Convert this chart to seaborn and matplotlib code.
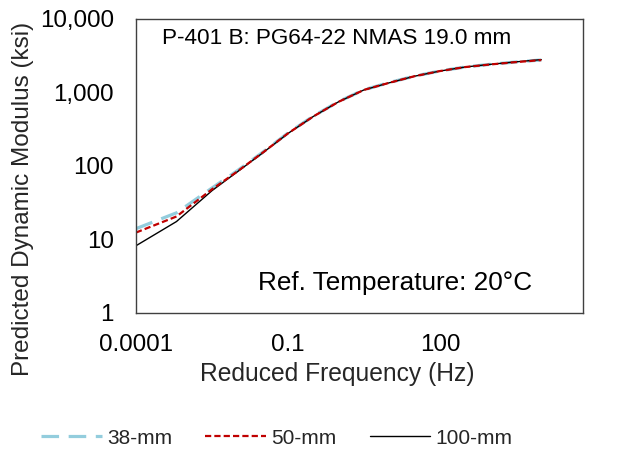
import numpy as np
import pandas as pd
import matplotlib
matplotlib.use("Agg")
import matplotlib.pyplot as plt
import seaborn as sns
from matplotlib.ticker import FixedLocator, FixedFormatter, NullLocator

# ---- data ----
freq = [1e-4, 6.3e-4, 3.16e-3, 1e-2, 3.16e-2, 0.1, 0.316, 1.0, 3.16, 10.0,
        31.6, 100.0, 316.0, 1000.0, 3162.0, 10000.0]
mod_38 = [14.0, 23.0, 50.0, 86.0, 153.0, 280.0, 475.0, 750.0, 1085.0, 1360.0,
          1665.0, 1955.0, 2215.0, 2410.0, 2590.0, 2760.0]
mod_50 = [12.4, 20.5, 48.0, 84.0, 151.0, 277.0, 470.0, 745.0, 1080.0, 1350.0,
          1660.0, 1950.0, 2210.0, 2400.0, 2580.0, 2750.0]
mod_100 = [8.2, 17.5, 46.0, 83.0, 150.0, 276.0, 470.0, 745.0, 1080.0, 1350.0,
           1660.0, 1950.0, 2215.0, 2410.0, 2600.0, 2790.0]
series_names = ["38-mm", "50-mm", "100-mm"]
x_ticks = [1e-4, 1e-1, 1e2]
x_tick_labels = ["0.0001", "0.1", "100"]
y_ticks = [1, 10, 100, 1000, 10000]
y_tick_labels = ["1", "10", "100", "1,000", "10,000"]
title_text = "P-401 B: PG64-22 NMAS 19.0 mm"
ref_text = "Ref. Temperature: 20°C"

sns.set_theme(style="white")
plt.rcParams["font.family"] = ["Liberation Sans", "DejaVu Sans"]

fig = plt.figure(figsize=(6.18, 4.49), dpi=100)
ax = fig.add_axes([0.220, 0.303, 0.723, 0.655])

styles = {
    "38-mm": dict(color="#93CDDD", lw=2.3, dashes=(5.5, 3.0)),
    "100-mm": dict(color="#000000", lw=1.0, dashes=None),
    "50-mm": dict(color="#C00000", lw=1.6, dashes=(2.8, 1.4)),
}
data_map = {"38-mm": mod_38, "50-mm": mod_50, "100-mm": mod_100}

for name in ["38-mm", "100-mm", "50-mm"]:
    df = pd.DataFrame({"freq": freq, "mod": data_map[name]})
    st = styles[name]
    sns.lineplot(data=df, x="freq", y="mod", ax=ax, color=st["color"],
                 linewidth=st["lw"], label=name, legend=False)
    line = ax.get_lines()[-1]
    if st["dashes"] is not None:
        line.set_dashes(st["dashes"])

ax.set_xscale("log")
ax.set_yscale("log")
ax.set_xlim(1e-4, 6.6e4)
ax.set_ylim(1, 10000)

ax.xaxis.set_major_locator(FixedLocator(x_ticks))
ax.xaxis.set_major_formatter(FixedFormatter(x_tick_labels))
ax.xaxis.set_minor_locator(NullLocator())
ax.yaxis.set_major_locator(FixedLocator(y_ticks))
ax.yaxis.set_major_formatter(FixedFormatter(y_tick_labels))
ax.yaxis.set_minor_locator(NullLocator())

ax.tick_params(axis="both", which="major", direction="in", length=6, width=1,
               color="#404040", labelsize=17.4, labelcolor="#000000")
ax.tick_params(axis="x", pad=15)
ax.tick_params(axis="y", pad=16)
for sp in ax.spines.values():
    sp.set_visible(True)
    sp.set_color("#404040")
    sp.set_linewidth(1.0)

ax.set_xlabel("Reduced Frequency (Hz)", fontsize=17.7, color="#262626")
ax.xaxis.set_label_coords(0.45, -0.167)
ax.set_ylabel("Predicted Dynamic Modulus (ksi)", fontsize=17.5, color="#262626")
ax.yaxis.set_label_coords(-0.253, 0.389)
ax.yaxis.label.set_va("center")

ax.text(0.45, 0.915, title_text, transform=ax.transAxes, ha="center",
        va="baseline", fontsize=16.2, color="#000000")
ax.text(0.886, 0.0785, ref_text, transform=ax.transAxes, ha="right",
        va="baseline", fontsize=18.8, color="#000000")

hmap = {l.get_label(): l for l in ax.get_lines()}
handles = [hmap[n] for n in series_names]
fig.legend(handles, series_names, loc="center", bbox_to_anchor=(0.448, 0.024),
           ncol=3, frameon=False, fontsize=15, handlelength=2.9,
           handletextpad=0.25, columnspacing=1.6)

fig.savefig("out.png", dpi=100)
